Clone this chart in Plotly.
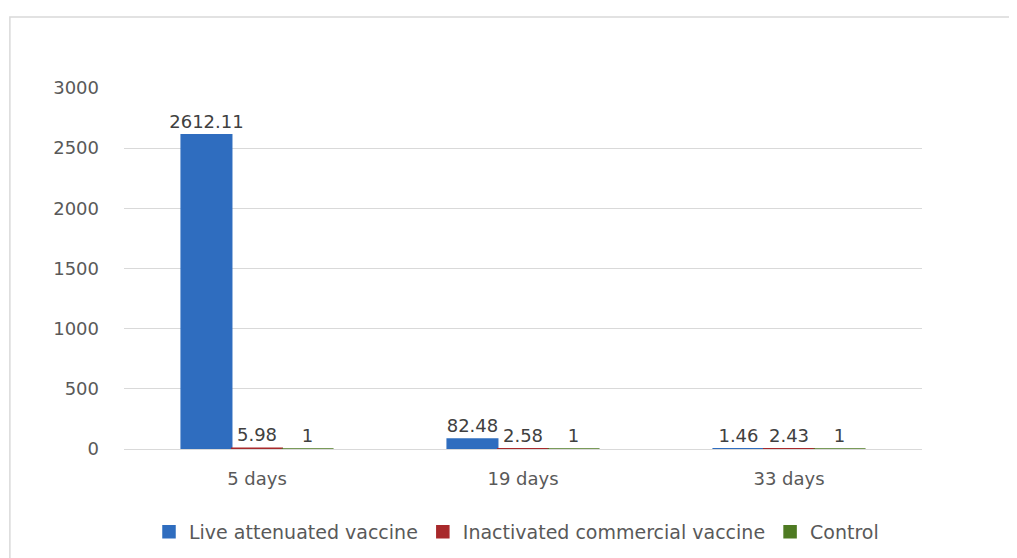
import plotly.graph_objects as go

categories = ["5 days", "19 days", "33 days"]
series_names = ["Live attenuated vaccine", "Inactivated commercial vaccine", "Control"]
live_vals = [2612.11, 82.48, 1.46]
inact_vals = [5.98, 2.58, 2.43]
control_vals = [1, 1, 1]
y_ticks = [0, 500, 1000, 1500, 2000, 2500, 3000]

colors = ["#2F6DBF", "#A8292B", "#4E7A22"]
FONT = "DejaVu Sans"
GREY = "#595959"

fig = go.Figure()
for name, vals, col in zip(series_names, [live_vals, inact_vals, control_vals], colors):
    fig.add_trace(go.Bar(
        name=name, x=categories, y=vals,
        marker=dict(color=col, line=dict(color=col, width=1.5)),
        text=[str(v) for v in vals], textposition="outside",
        textfont=dict(family=FONT, size=18, color="#404040"),
        cliponaxis=False,
    ))

fig.update_layout(
    width=1017, height=558,
    paper_bgcolor="white", plot_bgcolor="white",
    barmode="group", bargap=0.43, bargroupgap=0,
    uniformtext=dict(minsize=18, mode="show"),
    margin=dict(l=116, r=103, t=80, b=117),
    font=dict(family=FONT, size=18, color=GREY),
    legend=dict(orientation="h", xref="container", yref="container",
                x=0.5, xanchor="center", y=0.061, yanchor="middle",
                font=dict(family=FONT, size=19, color=GREY)),
    shapes=[dict(type="rect", xref="paper", yref="paper", x0=-0.143, x1=1.2, y0=-0.4, y1=1.197,
                 line=dict(color="#D9D9D9", width=1.5), fillcolor="rgba(0,0,0,0)", layer="below")],
)
fig.update_yaxes(range=[0, 3000], tickvals=y_ticks, showgrid=True, gridcolor="#D9D9D9",
                 zeroline=False, showline=False, ticks="", ticklabelstandoff=24,
                 tickfont=dict(family=FONT, size=18, color=GREY))
fig.update_xaxes(showline=True, linecolor="#D9D9D9", ticks="", ticklabelstandoff=13,
                 tickfont=dict(family=FONT, size=18, color=GREY))

fig.write_html("out.html")
